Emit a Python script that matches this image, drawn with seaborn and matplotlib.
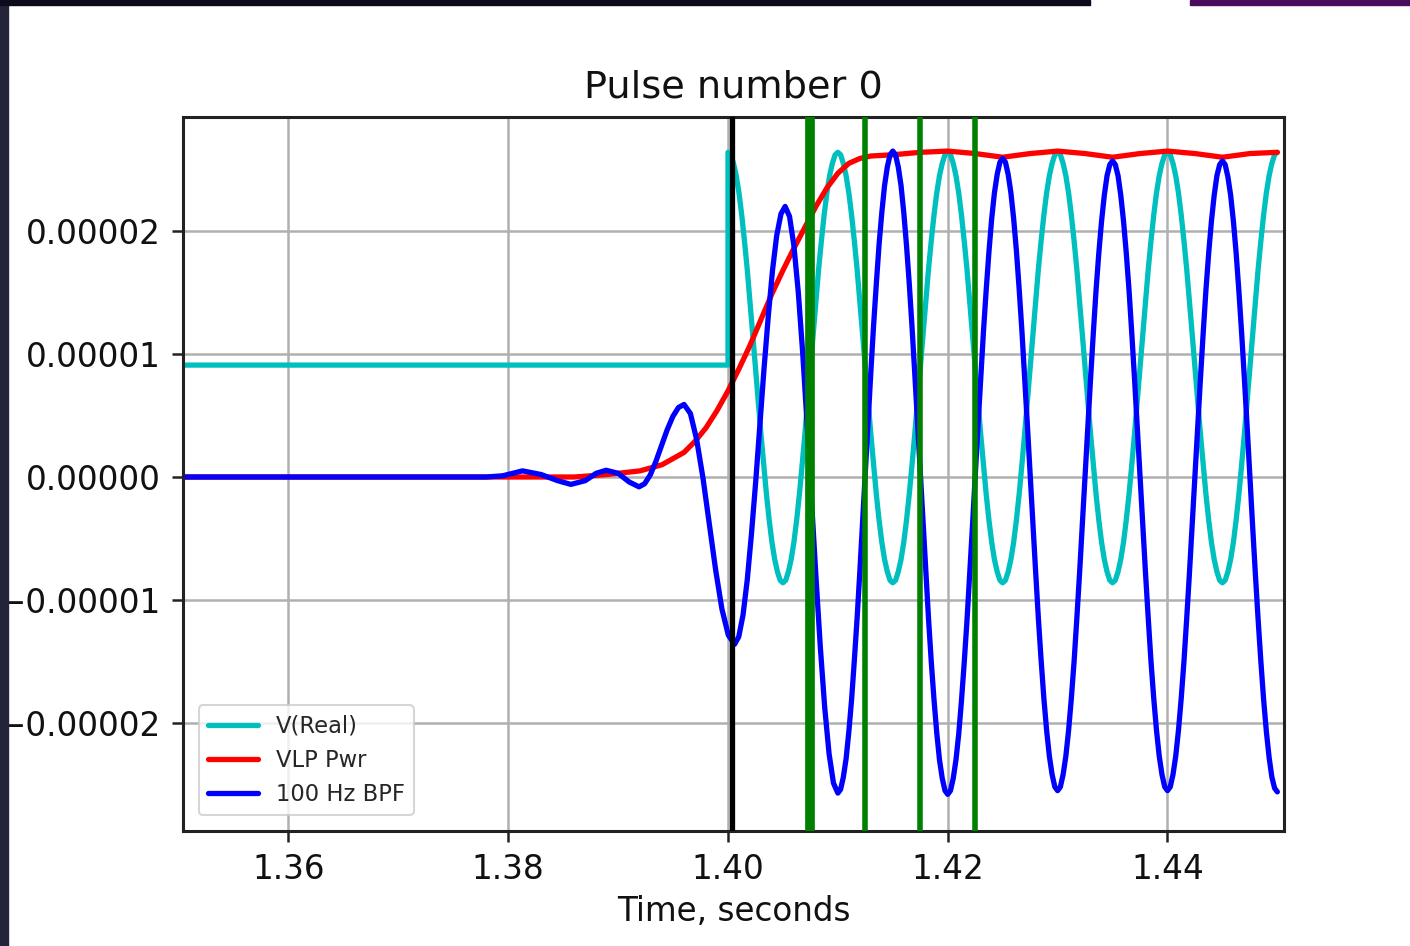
import numpy as np
import matplotlib
matplotlib.use("Agg")
import matplotlib.pyplot as plt
from matplotlib.patches import Rectangle
from matplotlib.ticker import FuncFormatter
import seaborn as sns

# values in units of 1e-5
UNIT = 1e-5

# common time grid for the oscillating part, 1.400 .. 1.450
t_grid = [
    1.40000, 1.40025, 1.40050, 1.40075, 1.40100, 1.40125, 1.40150, 1.40175, 1.40200, 1.40225,
    1.40250, 1.40275, 1.40300, 1.40325, 1.40350, 1.40375, 1.40400, 1.40425, 1.40450, 1.40475,
    1.40500, 1.40525, 1.40550, 1.40575, 1.40600, 1.40625, 1.40650, 1.40675, 1.40700, 1.40725,
    1.40750, 1.40775, 1.40800, 1.40825, 1.40850, 1.40875, 1.40900, 1.40925, 1.40950, 1.40975,
    1.41000, 1.41025, 1.41050, 1.41075, 1.41100, 1.41125, 1.41150, 1.41175, 1.41200, 1.41225,
    1.41250, 1.41275, 1.41300, 1.41325, 1.41350, 1.41375, 1.41400, 1.41425, 1.41450, 1.41475,
    1.41500, 1.41525, 1.41550, 1.41575, 1.41600, 1.41625, 1.41650, 1.41675, 1.41700, 1.41725,
    1.41750, 1.41775, 1.41800, 1.41825, 1.41850, 1.41875, 1.41900, 1.41925, 1.41950, 1.41975,
    1.42000, 1.42025, 1.42050, 1.42075, 1.42100, 1.42125, 1.42150, 1.42175, 1.42200, 1.42225,
    1.42250, 1.42275, 1.42300, 1.42325, 1.42350, 1.42375, 1.42400, 1.42425, 1.42450, 1.42475,
    1.42500, 1.42525, 1.42550, 1.42575, 1.42600, 1.42625, 1.42650, 1.42675, 1.42700, 1.42725,
    1.42750, 1.42775, 1.42800, 1.42825, 1.42850, 1.42875, 1.42900, 1.42925, 1.42950, 1.42975,
    1.43000, 1.43025, 1.43050, 1.43075, 1.43100, 1.43125, 1.43150, 1.43175, 1.43200, 1.43225,
    1.43250, 1.43275, 1.43300, 1.43325, 1.43350, 1.43375, 1.43400, 1.43425, 1.43450, 1.43475,
    1.43500, 1.43525, 1.43550, 1.43575, 1.43600, 1.43625, 1.43650, 1.43675, 1.43700, 1.43725,
    1.43750, 1.43775, 1.43800, 1.43825, 1.43850, 1.43875, 1.43900, 1.43925, 1.43950, 1.43975,
    1.44000, 1.44025, 1.44050, 1.44075, 1.44100, 1.44125, 1.44150, 1.44175, 1.44200, 1.44225,
    1.44250, 1.44275, 1.44300, 1.44325, 1.44350, 1.44375, 1.44400, 1.44425, 1.44450, 1.44475,
    1.44500, 1.44525, 1.44550, 1.44575, 1.44600, 1.44625, 1.44650, 1.44675, 1.44700, 1.44725,
    1.44750, 1.44775, 1.44800, 1.44825, 1.44850, 1.44875, 1.44900, 1.44925, 1.44950, 1.44975,
    1.45000,
]

# V(Real): flat level, step at 1.40, then 100 Hz oscillation
vreal_t = [1.3500, 1.4000] + t_grid
vreal_v = [0.91, 0.91] + [
    2.64, 2.62, 2.55, 2.45, 2.31, 2.13, 1.92, 1.69, 1.43, 1.16,
    0.89, 0.62, 0.35, 0.10, -0.14, -0.35, -0.53, -0.67, -0.77, -0.84,
    -0.86, -0.84, -0.77, -0.67, -0.53, -0.35, -0.14, 0.10, 0.35, 0.62,
    0.89, 1.16, 1.43, 1.69, 1.92, 2.13, 2.31, 2.45, 2.55, 2.62,
    2.64, 2.62, 2.55, 2.45, 2.31, 2.13, 1.92, 1.69, 1.43, 1.16,
    0.89, 0.62, 0.35, 0.10, -0.14, -0.35, -0.53, -0.67, -0.77, -0.84,
    -0.86, -0.84, -0.77, -0.67, -0.53, -0.35, -0.14, 0.10, 0.35, 0.62,
    0.89, 1.16, 1.43, 1.69, 1.92, 2.13, 2.31, 2.45, 2.55, 2.62,
    2.64, 2.62, 2.55, 2.45, 2.31, 2.13, 1.92, 1.69, 1.43, 1.16,
    0.89, 0.62, 0.35, 0.10, -0.14, -0.35, -0.53, -0.67, -0.77, -0.84,
    -0.86, -0.84, -0.77, -0.67, -0.53, -0.35, -0.14, 0.10, 0.35, 0.62,
    0.89, 1.16, 1.43, 1.69, 1.92, 2.13, 2.31, 2.45, 2.55, 2.62,
    2.64, 2.62, 2.55, 2.45, 2.31, 2.13, 1.92, 1.69, 1.43, 1.16,
    0.89, 0.62, 0.35, 0.10, -0.14, -0.35, -0.53, -0.67, -0.77, -0.84,
    -0.86, -0.84, -0.77, -0.67, -0.53, -0.35, -0.14, 0.10, 0.35, 0.62,
    0.89, 1.16, 1.43, 1.69, 1.92, 2.13, 2.31, 2.45, 2.55, 2.62,
    2.64, 2.62, 2.55, 2.45, 2.31, 2.13, 1.92, 1.69, 1.43, 1.16,
    0.89, 0.62, 0.35, 0.10, -0.14, -0.35, -0.53, -0.67, -0.77, -0.84,
    -0.86, -0.84, -0.77, -0.67, -0.53, -0.35, -0.14, 0.10, 0.35, 0.62,
    0.89, 1.16, 1.43, 1.69, 1.92, 2.13, 2.31, 2.45, 2.55, 2.62,
    2.64,
]

# VLP Pwr
vlp_t = [1.350, 1.380, 1.386, 1.389, 1.392, 1.394, 1.396, 1.397, 1.398, 1.399,
         1.400, 1.401, 1.402, 1.403, 1.404, 1.405, 1.406, 1.407, 1.408, 1.409,
         1.410, 1.411, 1.412, 1.413, 1.415, 1.4175, 1.420, 1.4225, 1.425, 1.4275,
         1.430, 1.4325, 1.435, 1.4375, 1.440, 1.4425, 1.445, 1.4475, 1.450]
vlp_v = [0.0, 0.0, 0.0, 0.02, 0.05, 0.10, 0.20, 0.29, 0.40, 0.54,
         0.70, 0.88, 1.07, 1.28, 1.49, 1.68, 1.86, 2.03, 2.20, 2.35,
         2.47, 2.55, 2.59, 2.61, 2.62, 2.64, 2.65, 2.63, 2.60, 2.63,
         2.65, 2.63, 2.60, 2.63, 2.65, 2.63, 2.60, 2.63, 2.64]

# 100 Hz BPF: quiet, small ripple, growing response, then steady 100 Hz
bpf_t = [
    1.3500, 1.3780, 1.3795, 1.3813, 1.3830, 1.3845, 1.3857, 1.3870, 1.3880, 1.3889,
    1.3900, 1.3910,
    1.3919, 1.39241, 1.39293, 1.39344, 1.39395, 1.39446, 1.39498, 1.39549,
    1.3960, 1.39658, 1.39715, 1.39773, 1.3983, 1.39888, 1.39945, 1.40003,
    1.4006, 1.40098, 1.40137, 1.40175, 1.40213, 1.40252, 1.4029, 1.40328,
    1.40367, 1.40405, 1.40443, 1.40482,
    1.4052, 1.4056, 1.4060, 1.4064, 1.4068, 1.4072, 1.4076, 1.4080, 1.4084,
    1.4088, 1.4092, 1.4096,
] + t_grid[40:]
bpf_v = [
    0.0, 0.0, 0.01, 0.05, 0.02, -0.03, -0.06, -0.03, 0.03, 0.055,
    0.03, -0.04,
    -0.08, -0.055, 0.018, 0.127, 0.255, 0.383, 0.492, 0.565,
    0.59, 0.516, 0.304, -0.012, -0.385, -0.758, -1.074, -1.286,
    -1.36, -1.299, -1.121, -0.839, -0.47, -0.041, 0.42, 0.881,
    1.31, 1.679, 1.961, 2.139,
    2.2, 2.119, 1.88, 1.501, 1.008, 0.432, -0.185, -0.802, -1.378,
    -1.871, -2.25, -2.489,
    -2.57, -2.54, -2.44, -2.29, -2.07, -1.81, -1.49, -1.15, -0.77, -0.37,
    0.04, 0.45, 0.85, 1.23, 1.57, 1.89, 2.15, 2.37, 2.52, 2.62, 2.65,
    2.62, 2.52, 2.37, 2.15, 1.88, 1.57, 1.22, 0.84, 0.44, 0.03,
    -0.37, -0.77, -1.15, -1.50, -1.81, -2.08, -2.30, -2.45, -2.55, -2.58,
    -2.55, -2.45, -2.30, -2.09, -1.82, -1.51, -1.17, -0.79, -0.40, 0.01,
    0.41, 0.80, 1.18, 1.52, 1.83, 2.10, 2.31, 2.46, 2.56, 2.59,
    2.56, 2.46, 2.31, 2.10, 1.84, 1.53, 1.19, 0.81, 0.42, 0.02,
    -0.38, -0.77, -1.15, -1.49, -1.80, -2.06, -2.27, -2.42, -2.52, -2.55,
    -2.52, -2.42, -2.27, -2.06, -1.80, -1.50, -1.15, -0.78, -0.39, 0.01,
    0.41, 0.80, 1.17, 1.52, 1.82, 2.08, 2.29, 2.45, 2.54, 2.57,
    2.54, 2.45, 2.29, 2.08, 1.82, 1.52, 1.17, 0.80, 0.41, 0.01,
    -0.39, -0.78, -1.15, -1.50, -1.80, -2.06, -2.27, -2.42, -2.52, -2.55,
    -2.52, -2.42, -2.27, -2.06, -1.80, -1.50, -1.15, -0.78, -0.39, 0.01,
    0.41, 0.80, 1.17, 1.52, 1.82, 2.08, 2.29, 2.45, 2.54, 2.57,
    2.54, 2.44, 2.29, 2.08, 1.82, 1.51, 1.17, 0.80, 0.41, 0.00,
    -0.40, -0.79, -1.16, -1.50, -1.81, -2.07, -2.28, -2.44, -2.53, -2.56,
]

# event markers
pulse_time = 1.4004
window_times = [1.4075, 1.4125, 1.4175, 1.4225]
window_widths = [7.0, 4.0, 4.0, 4.0]

series_labels = ["V(Real)", "VLP Pwr", "100 Hz BPF"]
x_ticks = [1.36, 1.38, 1.40, 1.42, 1.44]
y_ticks = [-2, -1, 0, 1, 2]

sns.set_theme(style="ticks")
plt.rcParams["font.family"] = ["DejaVu Sans"]

fig = plt.figure(figsize=(14.1, 9.46), dpi=100)
ax = fig.add_axes([0.1298, 0.1216, 0.9106 - 0.1298, 0.8763 - 0.1216])

line_kw = dict(linewidth=3.8, estimator=None, sort=False,
               solid_joinstyle="round", solid_capstyle="round")
sns.lineplot(x=vreal_t, y=np.array(vreal_v) * UNIT, ax=ax, color="#00bfbf",
             label=series_labels[0], **line_kw)
sns.lineplot(x=vlp_t, y=np.array(vlp_v) * UNIT, ax=ax, color="#ff0000",
             label=series_labels[1], **line_kw)
sns.lineplot(x=bpf_t, y=np.array(bpf_v) * UNIT, ax=ax, color="#0000ff",
             label=series_labels[2], **line_kw)

ax.axvline(pulse_time, color="black", lw=3.8, zorder=3)
for wt, ww in zip(window_times, window_widths):
    ax.axvline(wt, color="#008000", lw=ww, zorder=3)

ax.set_xlim(1.3504, 1.4506)
ax.set_ylim(-2.878 * UNIT, 2.927 * UNIT)
ax.set_xticks(x_ticks)
ax.set_yticks([v * UNIT for v in y_ticks])
ax.xaxis.set_major_formatter(FuncFormatter(lambda v, p: f"{v:.2f}"))
ax.yaxis.set_major_formatter(
    FuncFormatter(lambda v, p: f"{v:.5f}".replace("-", "\u2212")))

ax.grid(True, color="#b0b0b0", lw=1.8)
ax.set_axisbelow(True)
for s in ax.spines.values():
    s.set_color("#222222")
    s.set_linewidth(2.2)
ax.tick_params(axis="both", labelsize=23.5, length=8, width=1.8, pad=8,
               colors="#222222", labelcolor="#111111")

ax.set_title("Pulse number 0", fontsize=27.5, pad=14, color="#111111")
ax.set_xlabel("Time, seconds", fontsize=23.5, labelpad=6, color="#111111")
ax.set_ylabel("")

leg = ax.legend(loc="lower left", fontsize=16.3, handlelength=2.2,
                frameon=True, borderaxespad=0.7, fancybox=True)
leg.get_frame().set_edgecolor("#cccccc")
leg.get_frame().set_linewidth(1.5)

# screenshot border around the figure
fig.patches.append(Rectangle((0, 0), 8 / 1410, 1, transform=fig.transFigure,
                             color="#23233a", zorder=0))
fig.patches.append(Rectangle((0, 1 - 5 / 946), 1090 / 1410, 5 / 946,
                             transform=fig.transFigure, color="#0b0b1c", zorder=0))
fig.patches.append(Rectangle((1190 / 1410, 1 - 5 / 946), 220 / 1410, 5 / 946,
                             transform=fig.transFigure, color="#4a0b5c", zorder=0))

fig.savefig("out.png", dpi=100)
